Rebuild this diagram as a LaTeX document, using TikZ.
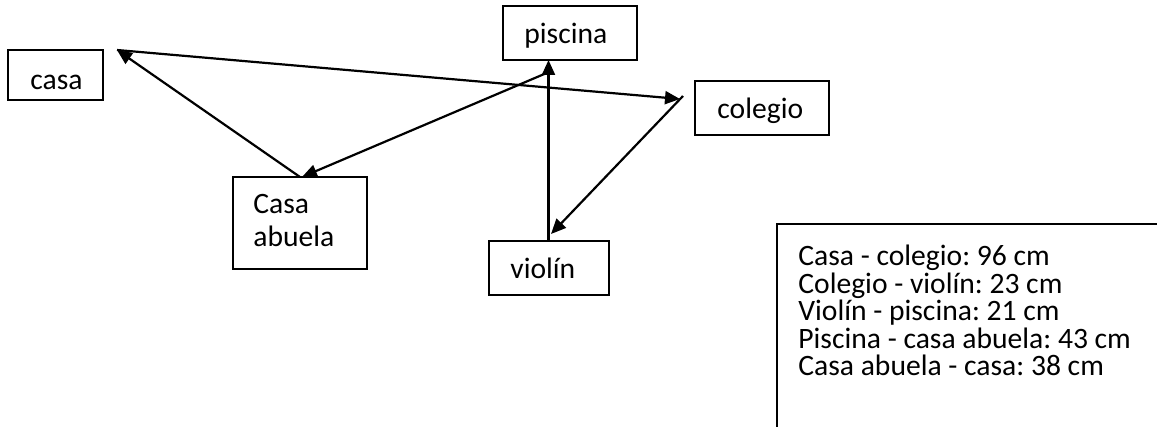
\documentclass[tikz,border=0pt]{standalone}
\usepackage{fontspec}
\setmainfont{Carlito}
\usetikzlibrary{arrows.meta}
\begin{document}
\frenchspacing
\begin{tikzpicture}[x=0.5pt,y=-0.5pt,
  box/.style 2 args={draw, line width=0.7pt, inner sep=0pt, minimum width=#1*0.5pt, minimum height=#2*0.5pt},
  lbl/.style={anchor=base west, inner sep=0pt, font=\fontsize{14.8}{15}\selectfont},
  conn/.style={line width=1.1pt, -{Triangle[length=7.5pt,width=6.5pt]}}]
\useasboundingbox (0,0) rectangle (1157,427);
% boxes
\node[box={95}{50}]  (casa)    at (55.5,75) {};
\node[box={134}{54}] (piscina) at (570,33) {};
\node[box={134}{54}] (colegio) at (762,108) {};
\node[box={134}{92}] (abuela)  at (300,223) {};
\node[box={120}{54}] (violin)  at (549,268) {};
% labels
\node[lbl] (tcasa)    at (30,90)  {casa};
\node[lbl] (tpiscina) at (524,44) {piscina};
\node[lbl] (tcolegio) at (717,119) {colegio};
\node[lbl] (tcasa2)   at (253,214) {Casa};
\node[lbl] (tabuela)  at (253,247) {abuela};
\node[lbl] (tviolin)  at (510,279) {violín};
% connector end points
\coordinate (pCasa)    at (117,50);
\coordinate (pAbuela)  at (300,177);
\coordinate (pAbuela2) at (302,177);
\coordinate (pCol)     at (680,99);
\coordinate (pCol2)    at (683,96);
\coordinate (pViolin)  at (551,234);
\coordinate (pViolin2) at (548.5,241);
\coordinate (pPisc)    at (548.5,60);
\coordinate (pPisc2)   at (549,72);
% connectors
\draw[conn] (pAbuela) -- (pCasa);
\draw[conn] (pCasa) -- (pCol);
\draw[conn] (pCol2) -- (pViolin);
\draw[conn] (pViolin2) -- (pPisc);
\draw[conn] (pPisc2) -- (pAbuela2);
% legend
\draw[line width=0.7pt] (777,427) -- (777,224) -- (1157,224);
\node[lbl] (l1) at (798,266)   {Casa - colegio: 96 cm};
\node[lbl] (l2) at (798,293.5) {Colegio - violín: 23 cm};
\node[lbl] (l3) at (798,321)   {Violín - piscina: 21 cm};
\node[lbl] (l4) at (798,348.5) {Piscina - casa abuela: 43 cm};
\node[lbl] (l5) at (798,376)   {Casa abuela - casa: 38 cm};
\end{tikzpicture}
\end{document}
